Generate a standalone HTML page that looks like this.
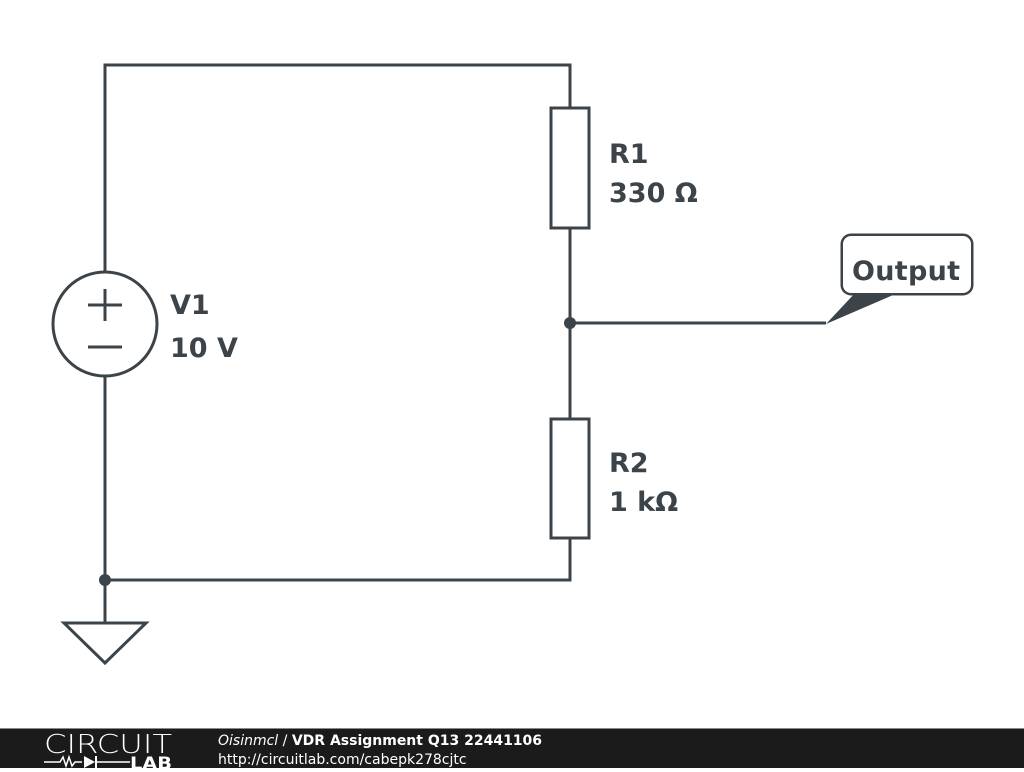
<!DOCTYPE html>
<html><head><style>
body{margin:0;width:1024px;height:768px;overflow:hidden;background:#fff;font-family:"DejaVu Sans","Liberation Sans",sans-serif}
</style></head><body>
<svg width="1024" height="768" viewBox="0 0 1024 768" xmlns="http://www.w3.org/2000/svg">
<g stroke="#3c4449" stroke-width="3" fill="none">
<polyline points="105,272 105,65 570,65 570,108"/>
<rect x="551" y="108" width="38" height="120"/>
<line x1="570" y1="228" x2="570" y2="419"/>
<rect x="551" y="419" width="38" height="119"/>
<polyline points="570,538 570,580 105,580 105,376"/>
<circle cx="105" cy="324" r="52"/>
<line x1="105" y1="580" x2="105" y2="623"/>
<polygon points="64,623 146,623 105,663"/>
<line x1="570" y1="323" x2="826" y2="323"/>
<line x1="88" y1="305" x2="122" y2="305"/>
<line x1="105" y1="289" x2="105" y2="321"/>
<line x1="88" y1="347" x2="122" y2="347"/>
<rect x="842" y="235" width="130" height="59" rx="9"/>
</g>
<polygon points="826,324 856,292 900,292" fill="#3c4449"/>
<rect x="843" y="236" width="128" height="57" rx="8" fill="#fff"/>
<circle cx="570" cy="323" r="6" fill="#3c4449"/>
<circle cx="105" cy="580" r="6" fill="#3c4449"/>
<g fill="#3c4449" font-family="'DejaVu Sans','Liberation Sans',sans-serif" font-weight="bold" font-size="27">
<text x="609" y="163">R1</text>
<text x="609" y="202">330 Ω</text>
<text x="609" y="472">R2</text>
<text x="609" y="511">1 kΩ</text>
<text x="170" y="314">V1</text>
<text x="170" y="357">10 V</text>
<text x="852" y="280" textLength="108">Output</text>
</g>
<rect x="0" y="728" width="1024" height="40" fill="#1b1b1b"/>
<line x1="0" y1="728.5" x2="1024" y2="728.5" stroke="#888" stroke-width="1"/>
<text x="44" y="753" fill="#fff" font-family="'DejaVu Sans',sans-serif" font-size="26" font-weight="200" textLength="128" lengthAdjust="spacingAndGlyphs">CIRCUIT</text>
<polyline points="44,762 60,762 63,757 66,766 69,757 72,766 75,762 82,762" stroke="#fff" stroke-width="1.5" fill="none"/>
<polygon points="84,756 84,768 95,762" fill="#fff"/>
<line x1="96" y1="756" x2="96" y2="768" stroke="#fff" stroke-width="2"/>
<line x1="96" y1="762" x2="130" y2="762" stroke="#fff" stroke-width="1.5"/>
<text x="130" y="769" fill="#fff" font-family="'DejaVu Sans',sans-serif" font-size="17" font-weight="bold" textLength="42" lengthAdjust="spacingAndGlyphs">LAB</text>
<text x="218" y="745" fill="#fff" font-family="'DejaVu Sans',sans-serif" font-size="14"><tspan font-style="italic">Oisinmcl</tspan> / <tspan font-weight="bold">VDR Assignment Q13 22441106</tspan></text>
<text x="218" y="764" fill="#fff" font-family="'DejaVu Sans',sans-serif" font-size="14">http://circuitlab.com/cabepk278cjtc</text>
</svg>
</body></html>
